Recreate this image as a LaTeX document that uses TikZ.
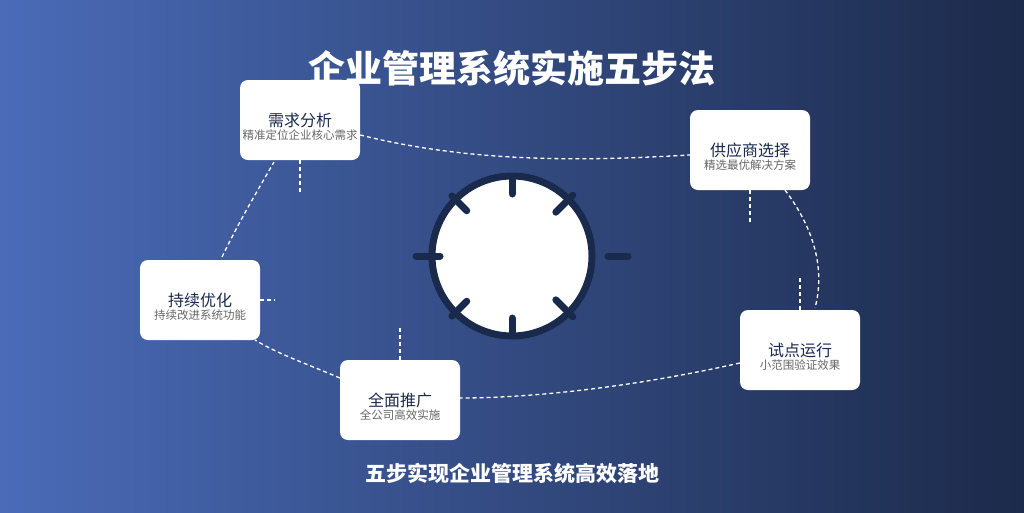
\documentclass[tikz,border=0pt]{standalone}
\usepackage{fontspec}
\setmainfont{Noto Sans CJK SC}
\definecolor{bgleft}{HTML}{4A6BB8}
\definecolor{bgright}{HTML}{1C2A4A}
\definecolor{navy}{HTML}{1A2A4C}
\definecolor{subgray}{HTML}{666666}
\begin{document}
\begin{tikzpicture}[x=1pt,y=-1pt,
  stepbox/.style={rectangle,rounded corners=8pt,fill=white,minimum width=120pt,minimum height=80pt,inner sep=0pt},
  link/.style={white,dashed,line width=1.3pt,dash pattern=on 4pt off 3pt},
  spoke/.style={navy,line width=7pt,line cap=round}]

  % background
  \shade[left color=bgleft,right color=bgright] (0,0) rectangle (1024,512);
  \useasboundingbox (0,0) rectangle (1024,512);

  \node[white,font=\bfseries\fontsize{37}{40}\selectfont] (title) at (512,68) {企业管理系统实施五步法};
  \node[white,font=\bfseries\fontsize{21}{24}\selectfont] (sub) at (512,473) {五步实现企业管理系统高效落地};

  % steps
  \node[stepbox] (S1) at (300,120) {};
  \node[stepbox] (S2) at (750,150) {};
  \node[stepbox] (S3) at (800,350) {};
  \node[stepbox] (S4) at (400,400) {};
  \node[stepbox] (S5) at (200,300) {};

  \foreach \n/\t/\s in {S1/需求分析/精准定位企业核心需求,S2/供应商选择/精选最优解决方案,
                        S3/试点运行/小范围验证效果,S4/全面推广/全公司高效实施,S5/持续优化/持续改进系统功能}{
    \node[navy,font=\fontsize{16}{18}\selectfont] (\n t) at ([yshift=0pt]\n.center) {\t};
    \node[subgray,font=\fontsize{11.5}{13}\selectfont] (\n s) at ([yshift=-15pt]\n.center) {\s};
  }

  % connectors
  \coordinate (c1) at (300,195);
  \coordinate (c2) at (750,225);
  \coordinate (c3) at (800,275);
  \coordinate (c4) at (400,325);
  \coordinate (c5) at (275,300);
  \draw[link] (S1.east) ++(0,15) .. controls (480,165) and (600,160) .. ([yshift=-5pt]S2.west);
  \draw[link] (785,190) .. controls (815,230) and (825,270) .. (815,308);
  \draw[link] ([yshift=-13pt]S3.west) .. controls (620,390) and (520,398) .. ([yshift=2pt]S4.east);
  \draw[link] ([yshift=22pt]S4.west) .. controls (310,365) and (280,355) .. (255,340);
  \draw[link] (222,257) .. controls (240,220) and (255,195) .. (274,162);
  \draw[link] (S1.south) -- (c1);
  \draw[link] (S2.south) -- (c2);
  \draw[link] (S3.north) -- (c3);
  \draw[link] (S4.north) -- (c4);
  \draw[link] (S5.east) -- (c5);

  % gear
  \node[circle,draw=navy,line width=7pt,fill=white,minimum size=160pt] (gear) at (512,256) {};
  \foreach \a/\r/\R in {90/62/76,270/62/76,180/72/96,0/96/116,135/64/85,225/64/85,45/62/86,315/62/86}
    \draw[spoke] ([shift={(\a:\r)}]gear.center) -- ([shift={(\a:\R)}]gear.center);
\end{tikzpicture}
\end{document}
